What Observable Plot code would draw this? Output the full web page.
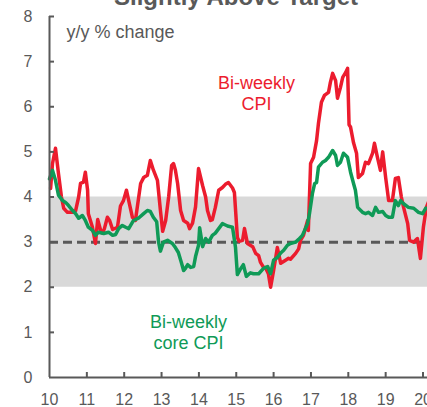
<!DOCTYPE html>
<html><head><meta charset="utf-8">
<script src="https://cdn.jsdelivr.net/npm/d3@7"></script>
<script src="https://cdn.jsdelivr.net/npm/@observablehq/plot@0.6"></script>
<style>
html,body{margin:0;padding:0;background:#fff;overflow:hidden}
#chart svg{overflow:visible;display:block}
</style></head><body><div id="chart"></div>
<script>
const title = "Slightly Above Target";
const unitLabel = "y/y % change";
const cpiLabel = "Bi-weekly\nCPI";
const coreLabel = "Bi-weekly\ncore CPI";

const cpiYears = [2010.03,2010.08,2010.16,2010.24,2010.32,2010.38,2010.48,2010.62,2010.70,2010.78,2010.83,2010.91,2010.96,2011.02,2011.04,2011.15,2011.23,2011.29,2011.37,2011.42,2011.47,2011.55,2011.61,2011.69,2011.82,2011.90,2011.98,2012.06,2012.14,2012.22,2012.30,2012.44,2012.52,2012.62,2012.70,2012.78,2012.89,2012.97,2013.03,2013.11,2013.19,2013.27,2013.32,2013.37,2013.43,2013.51,2013.59,2013.70,2013.75,2013.83,2013.91,2013.99,2014.10,2014.18,2014.23,2014.31,2014.36,2014.44,2014.53,2014.63,2014.71,2014.79,2014.90,2014.95,2015.03,2015.08,2015.17,2015.22,2015.30,2015.44,2015.52,2015.60,2015.65,2015.73,2015.78,2015.86,2015.92,2016.00,2016.10,2016.19,2016.32,2016.40,2016.45,2016.59,2016.67,2016.72,2016.80,2016.91,2016.93,2016.99,2017.07,2017.15,2017.20,2017.28,2017.36,2017.47,2017.52,2017.58,2017.66,2017.71,2017.79,2017.85,2017.93,2017.98,2018.02,2018.06,2018.14,2018.22,2018.27,2018.38,2018.46,2018.54,2018.65,2018.70,2018.78,2018.86,2018.92,2019.00,2019.08,2019.18,2019.26,2019.34,2019.42,2019.48,2019.59,2019.64,2019.75,2019.85,2019.93,2020.01,2020.09,2020.15];
const cpiValues = [4.19,4.74,5.08,4.52,4.0,3.75,3.66,3.66,3.7,4.0,4.3,4.33,4.55,4.15,3.63,3.33,2.97,3.5,3.26,3.2,3.3,3.55,3.48,3.28,3.33,3.8,3.92,4.15,3.85,3.55,3.48,4.3,4.43,4.48,4.81,4.6,4.37,3.7,3.24,3.48,4.0,4.7,4.74,4.6,4.3,3.7,3.48,3.42,3.3,3.42,3.78,4.63,4.25,4.0,3.7,3.48,3.5,3.77,4.15,4.21,4.28,4.32,4.2,4.1,3.1,3.02,3.04,3.3,2.97,2.9,2.75,2.7,2.55,2.44,2.44,2.3,2.0,2.37,2.88,2.53,2.6,2.64,2.62,2.75,2.85,3.04,3.15,3.48,3.26,4.74,4.88,5.25,5.63,6.1,6.25,6.32,6.54,6.74,6.58,6.19,6.43,6.65,6.76,6.85,5.6,5.55,5.2,4.97,4.43,4.52,4.77,4.74,4.97,5.19,4.88,4.59,5.0,4.43,3.92,3.92,4.41,4.43,4.0,3.77,3.41,3.04,3.0,3.08,2.64,3.33,3.77,3.9];

const coreYears = [2010.00,2010.08,2010.16,2010.24,2010.35,2010.43,2010.51,2010.62,2010.70,2010.78,2010.88,2010.96,2011.04,2011.15,2011.23,2011.31,2011.45,2011.58,2011.69,2011.77,2011.85,2011.95,2012.04,2012.12,2012.25,2012.38,2012.52,2012.62,2012.70,2012.78,2012.87,2012.92,2012.97,2013.05,2013.16,2013.29,2013.37,2013.45,2013.53,2013.59,2013.64,2013.70,2013.78,2013.86,2013.91,2013.99,2014.02,2014.10,2014.18,2014.26,2014.36,2014.44,2014.53,2014.63,2014.71,2014.79,2014.90,2014.98,2015.03,2015.11,2015.19,2015.27,2015.38,2015.46,2015.60,2015.73,2015.84,2015.92,2016.00,2016.10,2016.19,2016.27,2016.37,2016.45,2016.59,2016.67,2016.77,2016.83,2016.91,2016.96,2017.04,2017.10,2017.15,2017.20,2017.31,2017.39,2017.47,2017.58,2017.66,2017.71,2017.79,2017.87,2017.98,2018.06,2018.14,2018.19,2018.25,2018.38,2018.46,2018.54,2018.65,2018.73,2018.81,2018.92,2019.00,2019.08,2019.18,2019.26,2019.34,2019.40,2019.48,2019.61,2019.75,2019.88,2019.99,2020.07,2020.15];
const coreValues = [4.4,4.59,4.37,4.04,3.92,3.88,3.81,3.7,3.63,3.53,3.59,3.48,3.33,3.26,3.15,3.22,3.19,3.22,3.15,3.17,3.3,3.37,3.33,3.3,3.48,3.53,3.63,3.7,3.68,3.55,3.45,3.0,2.8,3.0,3.04,2.97,2.88,2.77,2.55,2.37,2.42,2.5,2.44,2.46,2.68,2.93,3.32,2.9,3.08,3.0,3.15,3.2,3.3,3.41,3.38,3.35,3.33,2.88,2.28,2.4,2.5,2.24,2.32,2.3,2.3,2.42,2.46,2.3,2.6,2.66,2.76,2.82,2.93,2.97,3.0,3.06,3.15,3.26,3.41,3.63,4.08,4.3,4.32,4.66,4.77,4.81,4.88,5.03,4.92,4.7,4.77,4.97,4.88,4.55,4.3,4.15,3.77,3.66,3.63,3.66,3.59,3.77,3.66,3.68,3.59,3.55,3.55,3.92,3.81,3.92,3.85,3.77,3.75,3.66,3.63,3.75,3.75];

const yTicks = [0,1,2,3,4,5,6,7,8];
const xTicks = [2010,2011,2012,2013,2014,2015,2016,2017,2018,2019,2020];
const targetBand = [2, 4];
const targetMid = 3;

const W = 427, H = 407, ML = 49, MR = 0, MT = 16, MB = 30;
const xDomain = [2010, 2020.12];
const red = "#ec1c2e", green = "#0f9a57", grey = "#595959";

const cpi = cpiYears.map((x, i) => ({x, y: cpiValues[i]}));
const core = coreYears.map((x, i) => ({x, y: coreValues[i]}));

const chart = Plot.plot({
  width: W, height: H,
  marginLeft: ML, marginRight: MR, marginTop: MT, marginBottom: MB,
  style: {fontFamily: "'Liberation Sans', Arial, sans-serif", fontSize: "16px", color: grey, background: "#fff", overflow: "visible"},
  x: {domain: xDomain},
  y: {domain: [0, 8]},
  marks: [
    Plot.rect([targetBand], {x1: xDomain[0], x2: xDomain[1], y1: d => d[0], y2: d => d[1], fill: "#d9d9d9"}),
    Plot.ruleY([targetMid], {stroke: grey, strokeWidth: 3, strokeDasharray: "9,5"}),
    Plot.line(cpi, {x: "x", y: "y", stroke: red, strokeWidth: 3.5, strokeLinejoin: "round"}),
    Plot.line(core, {x: "x", y: "y", stroke: green, strokeWidth: 3.5, strokeLinejoin: "round"}),
    Plot.ruleX([xDomain[0]], {stroke: grey, strokeWidth: 2}),
    Plot.ruleY([0], {stroke: grey, strokeWidth: 2}),
    Plot.ruleY(yTicks.slice(1), {y: d => d, stroke: grey, strokeWidth: 2, insetRight: (W - ML - MR) - 5}),
    Plot.ruleX(xTicks.slice(1), {x: d => d, stroke: grey, strokeWidth: 2, insetTop: (H - MT - MB) - 5}),
    Plot.axisY(yTicks, {tickSize: 0, tickPadding: 17, fontSize: 16, label: null}),
    Plot.axisX(xTicks, {tickSize: 0, tickPadding: 16, fontSize: 16, label: null, tickFormat: d => String(d % 100)}),
    Plot.text([title], {frameAnchor: "top", dx: -2.5, dy: -28.7, lineAnchor: "top", fontSize: 24, fontWeight: "bold", fill: grey}),
    Plot.text([unitLabel], {x: 2010.455, y: 7.815, textAnchor: "start", lineAnchor: "top", fontSize: 18, fill: grey}),
    Plot.text([cpiLabel], {x: 2015.54, y: 6.75, lineAnchor: "top", fontSize: 18, lineHeight: 1.22, fill: red}),
    Plot.text([coreLabel], {x: 2013.72, y: 1.44, lineAnchor: "top", fontSize: 18, lineHeight: 1.2, fill: green})
  ]
});
document.getElementById("chart").appendChild(chart);
</script>
</body></html>
